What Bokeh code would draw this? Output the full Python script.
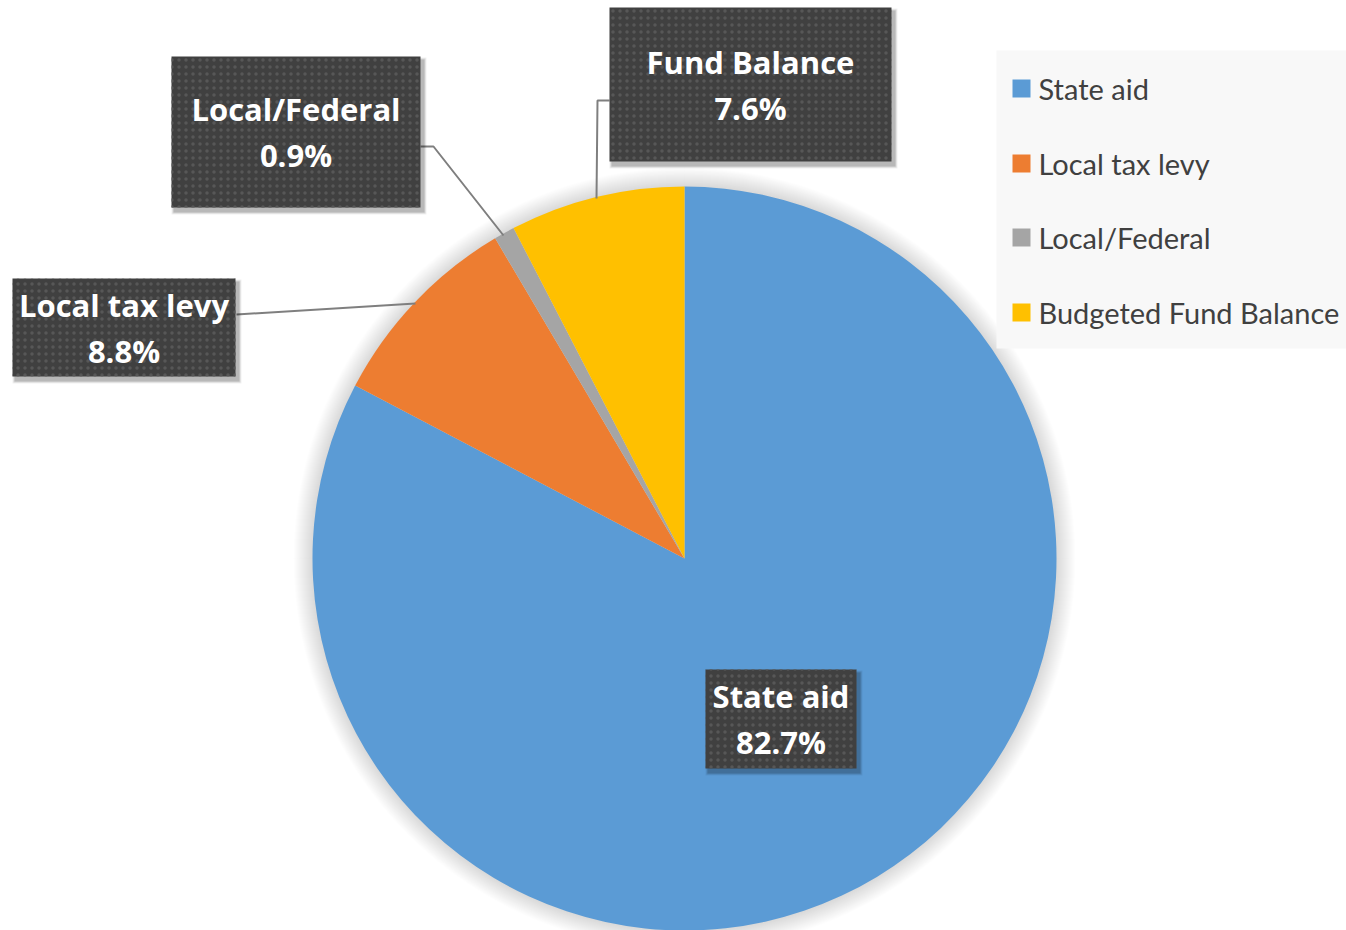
import math
from bokeh.plotting import figure
from bokeh.models import Range1d, ColumnDataSource
from bokeh.core.properties import value
from bokeh.embed import file_html
from bokeh.resources import INLINE

# ---- data ----
categories = ["State aid", "Local tax levy", "Local/Federal", "Budgeted Fund Balance"]
shares = [82.7, 8.8, 0.9, 7.6]
label_names = ["State aid", "Local tax levy", "Local/Federal", "Fund Balance"]
colors = ["#5B9BD5", "#ED7D31", "#A5A5A5", "#FFC000"]

# ---- layout (screen pixel coordinates; y grows downward, negated for Bokeh) ----
W, H = 1346, 930
CX, CY, R = 684, 558, 372
# label box centre, width, height for each slice
box_cx = [780.5, 123.5, 295.5, 750.0]
box_cy = [718.5, 327.0, 131.5, 84.0]
box_w = [151, 223, 249, 282]
box_h = [99, 98, 151, 154]
# leader lines (screen px) for each slice; None for no leader
leaders = [None,
           ([236, 415], [314, 303]),
           ([420, 433, 503], [146, 146, 235]),
           ([609, 597, 596], [100, 100, 198])]
LEG_X0, LEG_Y0, LEG_X1, LEG_Y1 = 996, 50, 1346, 348
leg_rows = [88, 163, 237, 312]

p = figure(width=W, height=H, output_backend="svg", toolbar_location=None,
           x_range=Range1d(0, W), y_range=Range1d(-H, 0),
           min_border=0, outline_line_color=None, background_fill_color="white",
           border_fill_color="white")
p.axis.visible = False
p.grid.visible = False

# soft glow around the pie
for k in range(1, 20):
    p.circle(x=[CX], y=[-CY], radius=R + k, fill_color="black",
             fill_alpha=0.009, line_color=None)

# pie wedges computed from shares
total = sum(shares)
starts, ends = [], []
cum = 0.0
for s in shares:
    a_start = math.pi / 2 - 2 * math.pi * (cum + s) / total
    a_end = math.pi / 2 - 2 * math.pi * cum / total
    starts.append(a_start)
    ends.append(a_end)
    cum += s
src = ColumnDataSource(dict(cat=categories, share=shares, color=colors,
                            start=starts, end=ends))
p.wedge(x=CX, y=-CY, radius=R, start_angle="start", end_angle="end",
        fill_color="color", line_color=None, source=src)

# leader lines
for ld in leaders:
    if ld is None:
        continue
    xs, ys = ld
    p.line(x=xs, y=[-v for v in ys], line_color="#7F7F7F", line_width=2)

# label box shadows
for k, a in [(6, 0.06), (4, 0.10), (2, 0.14)]:
    p.rect(x=[c + 3 for c in box_cx], y=[-(c + 4) for c in box_cy],
           width=[w + k for w in box_w], height=[h + k for h in box_h],
           fill_color="black", fill_alpha=a, line_color=None)

# label boxes
p.rect(x=box_cx, y=[-c for c in box_cy], width=box_w, height=box_h,
       fill_color="#404040", line_color=None,
       hatch_pattern="dot", hatch_color="#575757", hatch_scale=7, hatch_weight=2)

# label texts
p.text(x=box_cx, y=[-(c - 23) for c in box_cy], text=label_names,
       text_font=value("Open Sans"), text_font_style="bold", text_font_size="31px",
       text_color="white", text_align="center", text_baseline="middle")
p.text(x=box_cx, y=[-(c + 23) for c in box_cy],
       text=[f"{s:.1f}%" for s in shares],
       text_font=value("Open Sans"), text_font_style="bold", text_font_size="31px",
       text_color="white", text_align="center", text_baseline="middle")

# legend
p.quad(left=[LEG_X0], right=[LEG_X1], top=[-LEG_Y0], bottom=[-LEG_Y1],
       fill_color="#F8F8F8", line_color=None)
p.rect(x=[1021] * len(categories), y=[-r for r in leg_rows], width=18, height=18,
       fill_color=colors, line_color=None)
p.text(x=[1038] * len(categories), y=[-r for r in leg_rows], text=categories,
       text_font=value("Lato"), text_font_size="29px", text_color="#404040",
       text_align="left", text_baseline="middle")

open("out.html", "w").write(file_html(p, INLINE))
